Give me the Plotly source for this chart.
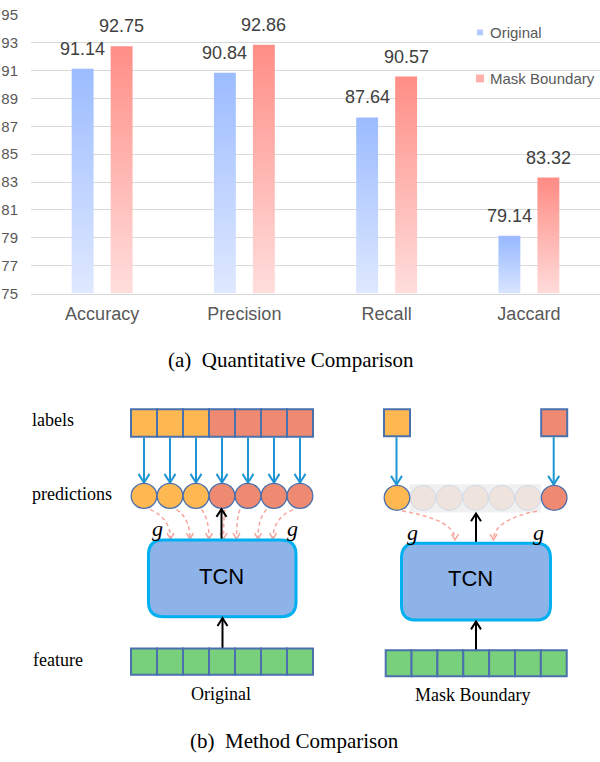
import plotly.graph_objects as go

# ---------------- data ----------------
categories = ["Accuracy", "Precision", "Recall", "Jaccard"]
original = [91.14, 90.84, 87.64, 79.14]
mask_boundary = [92.75, 92.86, 90.57, 83.32]
series_names = ["Original", "Mask Boundary"]
y_ticks = [75, 77, 79, 81, 83, 85, 87, 89, 91, 93, 95]

# diagram content
frame_labels = [0, 0, 0, 1, 1, 1, 1]   # class of each frame (0 = first action, 1 = second)
row_names = ["labels", "predictions", "feature"]
panel_names = ["Original", "Mask Boundary"]
block_name = "TCN"
captions = ["(a)\u00a0\u00a0Quantitative Comparison", "(b)\u00a0\u00a0Method Comparison"]

# ---------------- style ----------------
W, H = 600, 762
SANS = "Liberation Sans, Arial, sans-serif"
SERIF = "Liberation Serif, Times New Roman, serif"
BLUE_TOP, BLUE_BOT = "#9cbcff", "#e1eaff"
RED_TOP, RED_BOT = "#ff8e86", "#ffe0df"
GRID = "#d9d9d9"
TXT = "#595959"
ORANGE, SALMON = "#fdb851", "#ef8a72"
BORDER = "#4a70ad"
ARROW_BLUE = "#1f95d4"
PINK = "#f7a69d"
GREEN = "#79d07c"
TCN_FILL, TCN_LINE = "#8db3e9", "#00b0f0"

BAR_OFF = 0.137
BAR_HW = 0.077
Y0 = y_ticks[0]

fig = go.Figure()

for s, (vals, top, bot) in enumerate([(original, BLUE_TOP, BLUE_BOT),
                                       (mask_boundary, RED_TOP, RED_BOT)]):
    off = -BAR_OFF if s == 0 else BAR_OFF
    for i, v in enumerate(vals):
        xc = i + off
        fig.add_trace(go.Scatter(
            x=[xc - BAR_HW, xc + BAR_HW, xc + BAR_HW, xc - BAR_HW, xc - BAR_HW],
            y=[Y0, Y0, v, v, Y0],
            mode="lines", fill="toself", line=dict(width=0, color=top),
            fillgradient=dict(type="vertical", colorscale=[[0, bot], [1, top]],
                              start=Y0, stop=v),
            name=series_names[s], showlegend=False,
            hovertemplate=f"{categories[i]}<br>{series_names[s]}: {v:.2f}<extra></extra>",
        ))
        fig.add_annotation(x=xc, y=v, xref="x", yref="y", text=f"{v:.2f}",
                           showarrow=False, yanchor="bottom", yshift=8,
                           font=dict(family=SANS, size=18, color="#404040"))

fig.update_xaxes(range=[-0.5, 3.5], tickvals=list(range(len(categories))),
                 ticktext=categories, showgrid=False, zeroline=False,
                 showline=True, linecolor=GRID, linewidth=1, ticks="",
                 tickfont=dict(family=SANS, size=18, color=TXT),
                 ticklabelstandoff=4, fixedrange=True,
                 domain=[31 / W, 1.0])
fig.update_yaxes(range=[75, 95], tickvals=y_ticks, showgrid=True,
                 gridcolor=GRID, gridwidth=1, zeroline=False, showline=False,
                 ticks="", tickfont=dict(family=SANS, size=15, color=TXT),
                 ticklabelstandoff=12, ticklabeloverflow="allow", fixedrange=True,
                 domain=[1 - 291 / H, 1 - 6 / H])

# ---------------- helpers (pixel coordinates -> paper) ----------------
shapes = []
annos = []


def px(x):
    return x / W


def py(y):
    return 1 - y / H


def P(x, y):
    return f"{px(x):.5f},{py(y):.5f}"


def rect(x0, y0, x1, y1, fill, line=None, lw=1.5):
    shapes.append(dict(type="rect", xref="paper", yref="paper",
                       x0=px(x0), x1=px(x1), y0=py(y1), y1=py(y0),
                       fillcolor=fill,
                       line=dict(color=line or fill, width=lw if line else 0)))


def circle(cx, cy, r, fill, line, lw=1.3):
    shapes.append(dict(type="circle", xref="paper", yref="paper",
                       x0=px(cx - r), x1=px(cx + r), y0=py(cy + r), y1=py(cy - r),
                       fillcolor=fill, line=dict(color=line, width=lw)))


def path(d, color, lw, dash="solid", fill=None):
    s = dict(type="path", xref="paper", yref="paper", path=d,
             line=dict(color=color, width=lw, dash=dash))
    if fill:
        s["fillcolor"] = fill
    shapes.append(s)


def vee(x, y, direction, w, h, color, lw):
    # open arrowhead with tip at (x, y); direction 1 = pointing down, -1 = up
    d = f"M{P(x - w / 2, y - direction * h)} L{P(x, y)} L{P(x + w / 2, y - direction * h)}"
    path(d, color, lw)


def arrow_v(x, y_from, y_to, color, lw, w, h):
    path(f"M{P(x, y_from)} L{P(x, y_to)}", color, lw)
    vee(x, y_to, 1 if y_to > y_from else -1, w, h, color, lw)


def curve(x0, y0, x1, y1):
    d = f"M{P(x0, y0)} Q{P(x1, y0 + 9)} {P(x1, y1)}"
    path(d, PINK, 1.5, dash="4px,3px")
    vee(x1, y1, 1, 7, 6, PINK, 1.5)


def rrect(x0, y0, x1, y1, r, fill, line, lw):
    d = (f"M{P(x0 + r, y0)} L{P(x1 - r, y0)} Q{P(x1, y0)} {P(x1, y0 + r)} "
         f"L{P(x1, y1 - r)} Q{P(x1, y1)} {P(x1 - r, y1)} L{P(x0 + r, y1)} "
         f"Q{P(x0, y1)} {P(x0, y1 - r)} L{P(x0, y0 + r)} Q{P(x0, y0)} {P(x0 + r, y0)} Z")
    path(d, line, lw, fill=fill)


def text(x, y, t, size, family, color="#000000", xanchor="center"):
    annos.append(dict(x=px(x), y=py(y), xref="paper", yref="paper", text=t,
                      showarrow=False, xanchor=xanchor, yanchor="middle",
                      font=dict(family=family, size=size, color=color)))


cls_color = {0: ORANGE, 1: SALMON}

# ---------------- legend (manual, compact) ----------------
rect(477, 21, 483, 27, "#b4cafe")
text(488, 24, series_names[0], 15, SANS, TXT, "left")
rect(476, 67, 484, 75, "#ffb0aa")
text(488, 71, series_names[1], 15, SANS, TXT, "left")

# ---------------- captions ----------------
text(291, 359, captions[0], 21, SERIF)
text(294, 749, captions[1], 21, SERIF)

# ---------------- row names ----------------
text(30, 420, row_names[0], 18, SERIF, xanchor="left")
text(30, 496, row_names[1], 18, SERIF, xanchor="left")
text(31, 666, row_names[2], 18, SERIF, xanchor="left")

n = len(frame_labels)
CELL = 26.0
R = 12.8

# ================= left panel: Original =================
LX0 = 131.0
centers_L = [LX0 + CELL / 2 + CELL * i for i in range(n)]
for i, c in enumerate(frame_labels):
    rect(LX0 + CELL * i, 409.5, LX0 + CELL * (i + 1), 437.5, cls_color[c], BORDER, 2)
for i, c in enumerate(frame_labels):
    arrow_v(centers_L[i], 438.5, 484.5, ARROW_BLUE, 2, 11, 9)
for i, c in enumerate(frame_labels):
    circle(centers_L[i], 498, R, cls_color[c], BORDER)
# dashed feedback arrows
starts = [150, 176.5, 201.5, 225, 240, 266.5, 293]
ends = [170.5, 190, 209, 223.5, 236.5, 258, 273]
for xs, xe in zip(starts, ends):
    curve(xs, 512, xe, 542)
arrow_v(221.5, 542, 511.5, "#000000", 2, 10, 8)
rrect(148.5, 543, 296, 621.5, 15, TCN_FILL, TCN_LINE, 3)
text(221, 580, block_name, 22, SANS)
arrow_v(222.5, 654, 623, "#000000", 2, 10, 8)
for i in range(n):
    rect(LX0 + CELL * i, 654, LX0 + CELL * (i + 1), 681, GREEN, BORDER, 2)
text(221, 701, panel_names[0], 18, SERIF)
text(158, 531, "<i>g</i>", 22, SERIF)
text(292, 531, "<i>g</i>", 22, SERIF)

# ================= right panel: Mask Boundary =================
centers_R = [397 + 26.2 * i for i in range(n)]
rect(409.5, 486, 541, 515, "#f0f0f0")
for i in range(1, n - 1):
    circle(centers_R[i], 500, R, "#efe4dd", "#d0d9e8", 1)
for i in (0, n - 1):
    rect(centers_R[i] - 13, 409.5, centers_R[i] + 13, 437, cls_color[frame_labels[i]], BORDER, 2)
    arrow_v(centers_R[i] - 0.5, 438, 486.5, ARROW_BLUE, 2, 11, 9)
    circle(centers_R[i], 500, R, cls_color[frame_labels[i]], BORDER)
curve(402, 513.5, 455, 543)
curve(537, 513.5, 493.5, 543)
arrow_v(476, 546, 516, "#000000", 2, 10, 8)
rrect(401.5, 546.5, 550.5, 625, 15, TCN_FILL, TCN_LINE, 3)
text(470, 583, block_name, 22, SANS)
arrow_v(476, 656, 626.5, "#000000", 2, 10, 8)
RX0 = 385.7
for i in range(n):
    rect(RX0 + 25.86 * i, 656, RX0 + 25.86 * (i + 1), 682.5, GREEN, BORDER, 2)
text(473, 702, panel_names[1], 18, SERIF)
text(412, 535, "<i>g</i>", 22, SERIF)
text(538, 535, "<i>g</i>", 22, SERIF)

fig.update_layout(
    width=W, height=H, margin=dict(l=0, r=0, t=0, b=0),
    paper_bgcolor="#ffffff", plot_bgcolor="#ffffff",
    showlegend=False, shapes=shapes, annotations=list(fig.layout.annotations) + annos,
)

fig.write_html("out.html", config={"displayModeBar": False},
               post_script=("document.body.style.margin='0px';"
                            "document.body.style.overflow='hidden';"))
